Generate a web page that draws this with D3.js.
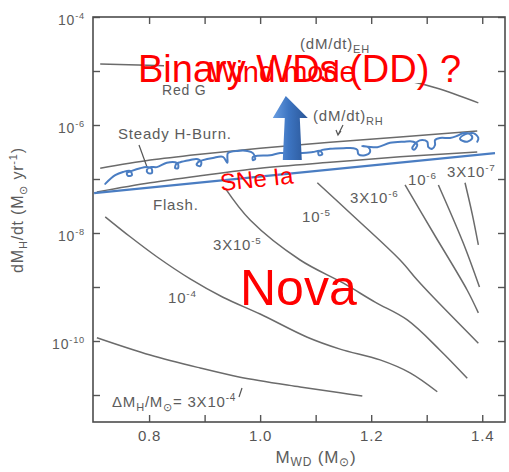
<!DOCTYPE html>
<html>
<head>
<meta charset="utf-8">
<script src="https://cdn.jsdelivr.net/npm/d3@7"></script>
<style>
    body { margin: 0; background: #fff; }
    svg text { font-family: "Liberation Sans", Arial, Helvetica, sans-serif; }
    .gray { fill: #5c5c5c; letter-spacing: 0.8px; }
</style>
</head>
<body>
<div id="chart"></div>
<script>
// x: white dwarf mass (M_sun), y: log10 of accretion rate dM_H/dt (M_sun / yr)
let xTicks = [0.8, 0.9, 1.0, 1.1, 1.2, 1.3, 1.4];
let xTickLabels = ["0.8", "", "1.0", "", "1.2", "", "1.4"];
let yTickExps = [-4, -5, -6, -7, -8, -9, -10, -11];
let yLabelExps = [-4, -6, -8, -10];

// boundaries of the steady burning strip
let ehLine = [[0.712, -4.87], [0.856, -4.91], [1.0, -4.96], [1.126, -5.04], [1.222, -5.11], [1.27, -5.19], [1.319, -5.32], [1.393, -5.59]];
let rhLine = [[0.712, -6.80], [0.802, -6.65], [0.892, -6.54], [1.0, -6.43], [1.126, -6.32], [1.252, -6.22], [1.391, -6.11]];
let steadyLow = [[0.706, -7.24], [0.802, -7.07], [0.892, -6.94], [1.0, -6.80], [1.126, -6.69], [1.252, -6.59], [1.391, -6.50]];

// constant ignition mass curves (Delta M_H / M_sun)
let novaMantissa = ["3X10", "10", "3X10", "10", "3X10", "10"];
let novaExponent = ["-7", "-6", "-6", "-5", "-5", "-4"];
let novaCurves = [
    [[1.369, -7.07], [1.382, -7.65], [1.393, -8.22]],
    [[1.321, -7.11], [1.366, -8.19], [1.395, -9.0]],
    [[1.261, -7.11], [1.312, -8.0], [1.373, -9.06], [1.393, -9.48]],
    [[1.103, -7.07], [1.162, -7.63], [1.252, -8.5], [1.283, -8.87], [1.312, -9.19], [1.393, -10.04]],
    [[0.937, -7.17], [0.982, -7.76], [1.072, -8.5], [1.150, -8.93], [1.207, -9.28], [1.265, -9.61], [1.324, -10.17], [1.373, -10.69]],
    [[0.721, -7.70], [0.766, -8.07], [0.814, -8.44], [0.874, -8.85], [0.933, -9.19], [1.0, -9.5], [1.085, -9.93], [1.144, -10.15], [1.216, -10.35], [1.270, -10.59], [1.319, -10.94]]
];
let lowestCurve = [[0.706, -9.94], [0.802, -10.26], [0.892, -10.5], [0.964, -10.67], [1.072, -10.85], [1.144, -10.96], [1.184, -11.02]];

// hand drawn SN Ia lines
let snIaLine = [[0.701, -7.26], [1.423, -6.52]];
let windSquiggle = [
    [0.721, -7.09], [0.739, -6.93], [0.753, -6.87], [0.766, -6.85], [0.769, -6.93], [0.762, -6.94], [0.760, -6.89], [0.769, -6.85],
    [0.784, -6.80], [0.796, -6.78], [0.804, -6.80], [0.805, -6.89], [0.798, -6.89], [0.796, -6.83], [0.802, -6.78], [0.814, -6.78],
    [0.832, -6.70], [0.847, -6.69], [0.852, -6.72], [0.852, -6.80], [0.847, -6.80], [0.849, -6.72], [0.856, -6.69], [0.874, -6.65],
    [0.886, -6.63], [0.894, -6.69], [0.892, -6.76], [0.886, -6.74], [0.888, -6.69], [0.897, -6.65], [0.915, -6.61], [0.933, -6.59],
    [0.941, -6.70], [0.941, -6.59], [0.942, -6.52], [0.959, -6.48], [0.977, -6.48], [0.987, -6.52], [0.991, -6.63], [0.987, -6.65],
    [0.987, -6.59], [0.995, -6.57], [1.018, -6.56], [1.036, -6.52], [1.076, -6.52], [1.095, -6.50], [1.108, -6.48], [1.112, -6.54],
    [1.106, -6.56], [1.105, -6.50], [1.112, -6.46], [1.126, -6.44], [1.150, -6.43], [1.168, -6.43], [1.175, -6.46], [1.177, -6.54],
    [1.189, -6.56], [1.198, -6.50], [1.195, -6.41], [1.184, -6.39], [1.211, -6.41], [1.234, -6.33], [1.258, -6.31], [1.276, -6.31],
    [1.283, -6.37], [1.277, -6.46], [1.274, -6.43], [1.283, -6.31], [1.292, -6.28], [1.301, -6.31], [1.303, -6.41], [1.310, -6.44],
    [1.315, -6.37], [1.315, -6.28], [1.324, -6.24], [1.342, -6.24], [1.355, -6.20], [1.366, -6.15], [1.378, -6.17], [1.382, -6.24],
    [1.373, -6.31], [1.360, -6.26], [1.366, -6.19], [1.384, -6.15], [1.393, -6.24], [1.391, -6.31]
];

let width = 509;
let height = 472;
let grayLine = "#6b6b6b";
let blue = "#4a7dc2";
let red = "#ff0000";

let svg = d3.select("#chart").append("svg")
    .attr("width", width)
    .attr("height", height);

let x = d3.scaleLinear().domain([0.699, 1.441]).range([93, 505]);
let y = d3.scaleLog().domain([Math.pow(10, -11.5), 1e-4]).range([422, 17]);

let line = d3.line()
    .x((d) => x(d[0]))
    .y((d) => y(Math.pow(10, d[1])))
    .curve(d3.curveCatmullRom.alpha(0.5));

// small helper for "10" with a raised exponent
function supLabel(g, px, py, base, sup, size, anchor) {
    let t = g.append("text")
        .attr("class", "gray")
        .attr("x", px)
        .attr("y", py)
        .attr("text-anchor", anchor || "start")
        .style("font-size", size + "px");
    t.append("tspan").text(base);
    t.append("tspan").attr("dy", -size * 0.42).style("font-size", size * 0.66 + "px").text(sup);
    return t;
}

// axes with inward ticks on all four sides
let tickCol = "#555";
let axB = svg.append("g").attr("transform", "translate(0,422)")
    .call(d3.axisBottom(x).tickValues(xTicks).tickSize(-7).tickSizeOuter(0).tickPadding(8)
        .tickFormat((d, i) => xTickLabels[i]));
let axT = svg.append("g").attr("transform", "translate(0,17)")
    .call(d3.axisTop(x).tickValues(xTicks).tickSize(-7).tickSizeOuter(0).tickFormat(""));
let yTickVals = yTickExps.map((e) => Math.pow(10, e));
let axL = svg.append("g").attr("transform", "translate(93,0)")
    .call(d3.axisLeft(y).tickValues(yTickVals).tickSize(-7).tickSizeOuter(0).tickFormat(""));
let axR = svg.append("g").attr("transform", "translate(505,0)")
    .call(d3.axisRight(y).tickValues(yTickVals).tickSize(-7).tickSizeOuter(0).tickFormat(""));
[axB, axT, axL, axR].forEach((a) => {
    a.select(".domain").remove();
    a.selectAll("line").attr("stroke", tickCol).attr("stroke-width", 1.4);
});
axB.selectAll("text")
    .attr("fill", "#555")
    .style("font-size", "15px")
    .style("letter-spacing", "0.8px")
    .style("font-family", "'Liberation Sans', Arial, sans-serif");

svg.append("rect")
    .attr("x", 93).attr("y", 17)
    .attr("width", 412).attr("height", 405)
    .attr("fill", "none")
    .attr("stroke", "#4d4d4d")
    .attr("stroke-width", 1.6);

let labels = svg.append("g");
yLabelExps.forEach((e) => {
    supLabel(labels, 85, y(Math.pow(10, e)) + 8, "10", String(e), 14, "end");
});

// axis titles
let xt = svg.append("text").attr("class", "gray")
    .attr("x", 316).attr("y", 463)
    .attr("text-anchor", "middle")
    .style("font-size", "17px");
xt.append("tspan").text("M");
xt.append("tspan").attr("dy", 3).style("font-size", "12px").text("WD");
xt.append("tspan").attr("dy", -3).text(" (M");
xt.append("tspan").attr("dy", 3).style("font-size", "12px").text("\u2299");
xt.append("tspan").attr("dy", -3).text(")");

let yt = svg.append("text").attr("class", "gray")
    .attr("transform", "translate(23,210) rotate(-90)")
    .attr("text-anchor", "middle")
    .style("font-size", "16px");
yt.append("tspan").text("dM");
yt.append("tspan").attr("dy", 4).style("font-size", "11px").text("H");
yt.append("tspan").attr("dy", -4).text("/dt  (M");
yt.append("tspan").attr("dy", 4).style("font-size", "11px").text("\u2299");
yt.append("tspan").attr("dy", -4).text(" yr");
yt.append("tspan").attr("dy", -6).style("font-size", "11px").text("-1");
yt.append("tspan").attr("dy", 6).text(")");

// gray curves
let curves = svg.append("g")
    .attr("fill", "none")
    .attr("stroke", grayLine)
    .attr("stroke-width", 1.5);
[ehLine, rhLine, steadyLow, lowestCurve].concat(novaCurves).forEach((c) => {
    curves.append("path").attr("d", line(c));
});

// white patches that hide parts of the original figure under the red text
svg.append("rect").attr("x", 164).attr("y", 56).attr("width", 256).attr("height", 27).attr("fill", "#fff");

svg.append("text").attr("class", "gray").attr("x", 162).attr("y", 95).style("font-size", "14px").text("Red Giant");
svg.append("rect").attr("x", 206).attr("y", 84).attr("width", 36).attr("height", 15).attr("fill", "#fff");

// region labels
let eh = svg.append("text").attr("class", "gray").attr("x", 300).attr("y", 49).style("font-size", "15px");
eh.append("tspan").text("(dM/dt)");
eh.append("tspan").attr("dy", 4).style("font-size", "11px").text("EH");
let rh = svg.append("text").attr("class", "gray").attr("x", 313).attr("y", 121).style("font-size", "15px");
rh.append("tspan").text("(dM/dt)");
rh.append("tspan").attr("dy", 4).style("font-size", "11px").text("RH");

svg.append("text").attr("class", "gray").attr("x", 118).attr("y", 139).style("font-size", "15px").text("Steady H-Burn.");
svg.append("text").attr("class", "gray").attr("x", 153).attr("y", 210).style("font-size", "15px").text("Flash.");

let pointers = svg.append("g").attr("stroke", "#555").attr("stroke-width", 1.2).attr("fill", "none");
pointers.append("path").attr("d", "M139,145 L147,167");
pointers.append("path").attr("d", "M343,125 L338,135 M336,130 L338,135 L341,131");
pointers.append("path").attr("d", "M242,388 L239,397");

// labels of the constant mass curves
let novaPos = [[447, 177], [408, 185], [350, 203], [302, 222], [213, 250], [168, 303]];
novaMantissa.forEach((m, i) => {
    supLabel(labels, novaPos[i][0], novaPos[i][1], m, novaExponent[i], 15);
});

let dm = svg.append("text").attr("class", "gray").attr("x", 112).attr("y", 407).style("font-size", "15px");
dm.append("tspan").text("\u0394M");
dm.append("tspan").attr("dy", 4).style("font-size", "11px").text("H");
dm.append("tspan").attr("dy", -4).text("/M");
dm.append("tspan").attr("dy", 4).style("font-size", "11px").text("\u2299");
dm.append("tspan").attr("dy", -4).text("= 3X10");
dm.append("tspan").attr("dy", -6).style("font-size", "10px").text("-4");

// blue hand drawn lines
svg.append("path")
    .attr("d", d3.line().x((d) => x(d[0])).y((d) => y(Math.pow(10, d[1])))(snIaLine))
    .attr("fill", "none")
    .attr("stroke", blue)
    .attr("stroke-width", 2.2);
svg.append("path")
    .attr("d", line(windSquiggle))
    .attr("fill", "none")
    .attr("stroke", blue)
    .attr("stroke-width", 2)
    .attr("stroke-linecap", "round");

// upward arrow
let grad = svg.append("defs").append("linearGradient").attr("id", "arrowGrad")
    .attr("x1", "0").attr("x2", "1").attr("y1", "0").attr("y2", "0");
grad.append("stop").attr("offset", "0").attr("stop-color", "#6a9ee2");
grad.append("stop").attr("offset", "0.45").attr("stop-color", "#3d75c2");
grad.append("stop").attr("offset", "1").attr("stop-color", "#2a5596");
let ax = x(1.057);
let ay = y(Math.pow(10, -6.65));
svg.append("path")
    .attr("d", `M${ax - 9},${ay} L${ax - 7},${ay - 42} L${ax - 19},${ay - 42} L${ax - 6},${ay - 64} L${ax + 16},${ay - 42} L${ax + 8},${ay - 42} L${ax + 10},${ay} Z`)
    .attr("fill", "url(#arrowGrad)");

// red annotations
svg.append("text").attr("x", 138).attr("y", 82).attr("fill", red).style("font-size", "38px").text("Binary WDs (DD) ?");
svg.append("text").attr("x", 209).attr("y", 82).attr("fill", red).style("font-size", "29px").text("Wind mode");
svg.append("text").attr("transform", "translate(221,191) rotate(-6)").attr("fill", red).style("font-size", "24px").text("SNe Ia");
svg.append("text").attr("x", 240).attr("y", 305).attr("fill", red).style("font-size", "50px").text("Nova");
</script>
</body>
</html>
